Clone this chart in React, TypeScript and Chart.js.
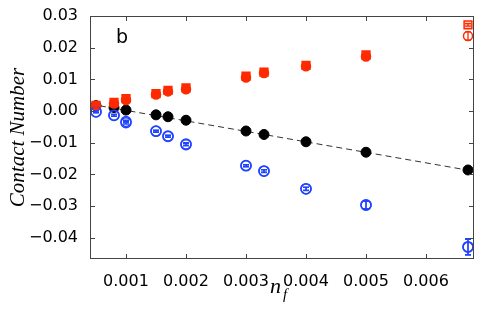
import React, { useEffect, useRef } from 'react';
import { Chart, registerables } from 'chart.js';
Chart.register(...registerables);

const nf = [0.0005, 0.0008, 0.001, 0.0015, 0.0017, 0.002, 0.003, 0.0033, 0.004, 0.005, 0.0067];
const blackVals = [0.0017, 0.0011, 0.0003, -0.0012, -0.0018, -0.0029, -0.0063, -0.0074, -0.0097, -0.013, -0.0186];
const redSquareVals = [0.0018, 0.0027, 0.0039, 0.0055, 0.0065, 0.0073, 0.011, 0.0123, 0.0144, 0.0177, 0.0272];
const redSquareErr = [0.0005, 0.0005, 0.0005, 0.0005, 0.0005, 0.0006, 0.0006, 0.0006, 0.0005, 0.0006, 0.0004];
const redCircleVals = [0.0015, 0.0024, 0.0035, 0.0052, 0.0062, 0.0069, 0.0106, 0.012, 0.0141, 0.0172, 0.0237];
const redCircleErr = [0.0006, 0.0006, 0.0006, 0.0006, 0.0006, 0.0007, 0.0008, 0.0007, 0.0006, 0.001, 0.0013];
const blueVals = [-0.0002, -0.0013, -0.0033, -0.0063, -0.0079, -0.0104, -0.0172, -0.0189, -0.0245, -0.0296, -0.0428];
const blueErr = [0.0003, 0.0003, 0.0004, 0.0003, 0.0003, 0.0004, 0.0003, 0.0004, 0.0005, 0.0012, 0.0025];
const blueAltVals = [-0.0003, -0.0014, -0.0037, -0.0064, -0.008, -0.0106, -0.0173, -0.019, -0.0246, -0.0297, -0.043];
const blueAltErr = [0.0003, 0.0003, 0.0004, 0.0003, 0.0003, 0.0004, 0.0003, 0.0004, 0.0005, 0.0012, 0.0025];
const fitX = [0.0004, 0.0068];
const fitY = [0.0022, -0.019];
const xTicks = [0.001, 0.002, 0.003, 0.004, 0.005, 0.006];
const yTicks = [0.03, 0.02, 0.01, 0.0, -0.01, -0.02, -0.03, -0.04];
const xRange = [0.0004, 0.0068];
const yRange = [-0.0467, 0.03];

const RED = '#ff2a00';
const BLUE = '#2244ff';

const pts = (vals: number[]) => nf.map((x, i) => ({ x, y: vals[i] }));

const errorBarPlugin = {
  id: 'errorBars',
  afterDatasetsDraw(chart: any) {
    const { ctx, chartArea, scales } = chart;
    ctx.save();
    ctx.beginPath();
    ctx.rect(chartArea.left, chartArea.top, chartArea.right - chartArea.left, chartArea.bottom - chartArea.top);
    ctx.clip();
    chart.data.datasets.forEach((ds: any) => {
      if (!ds.errors) return;
      ctx.strokeStyle = ds.borderColor;
      ctx.lineWidth = 1.3;
      ds.data.forEach((p: any, i: number) => {
        const e = ds.errors[i];
        const px = scales.x.getPixelForValue(p.x);
        const y1 = scales.y.getPixelForValue(p.y - e);
        const y2 = scales.y.getPixelForValue(p.y + e);
        ctx.beginPath();
        ctx.moveTo(px, y1);
        ctx.lineTo(px, y2);
        ctx.moveTo(px - 3, y1);
        ctx.lineTo(px + 3, y1);
        ctx.moveTo(px - 3, y2);
        ctx.lineTo(px + 3, y2);
        ctx.stroke();
      });
    });
    ctx.restore();
  },
};

const framePlugin = {
  id: 'frame',
  afterDraw(chart: any) {
    const { ctx, chartArea, scales } = chart;
    const { left, right, top, bottom } = chartArea;
    ctx.save();
    ctx.strokeStyle = '#444';
    ctx.lineWidth = 1;
    ctx.strokeRect(left + 0.5, top + 0.5, right - left - 1, bottom - top - 1);
    const L = 5;
    ctx.beginPath();
    xTicks.forEach((v) => {
      const px = Math.round(scales.x.getPixelForValue(v)) + 0.5;
      ctx.moveTo(px, bottom);
      ctx.lineTo(px, bottom - L);
      ctx.moveTo(px, top);
      ctx.lineTo(px, top + L);
    });
    yTicks.forEach((v) => {
      const py = Math.round(scales.y.getPixelForValue(v)) + 0.5;
      ctx.moveTo(left, py);
      ctx.lineTo(left + L, py);
      ctx.moveTo(right, py);
      ctx.lineTo(right - L, py);
    });
    ctx.stroke();
    ctx.fillStyle = '#000';
    ctx.font = '19px "DejaVu Sans"';
    ctx.textAlign = 'left';
    ctx.textBaseline = 'alphabetic';
    ctx.fillText('b', 116, 43);
    ctx.font = 'italic 22px "Liberation Serif"';
    ctx.fillText('n', 270, 293);
    ctx.font = 'italic 15px "Liberation Serif"';
    ctx.fillText('f', 283, 299);
    ctx.restore();
  },
};

export default function App() {
  const ref = useRef<HTMLCanvasElement | null>(null);
  useEffect(() => {
    if (!ref.current) return;
    const chart = new Chart(ref.current, {
      type: 'scatter',
      data: {
        datasets: [
          {
            type: 'line',
            order: 6,
            data: fitX.map((x, i) => ({ x, y: fitY[i] })),
            borderColor: '#333',
            borderWidth: 1,
            borderDash: [6, 4],
            pointRadius: 0,
            fill: false,
          } as any,
          {
            order: 5,
            data: pts(blackVals),
            backgroundColor: '#000',
            borderColor: '#000',
            pointRadius: 5,
            pointStyle: 'circle',
          },
          {
            order: 4,
            data: pts(redCircleVals),
            errors: redCircleErr,
            backgroundColor: (c: any) => (c.dataIndex === nf.length - 1 ? 'rgba(255,255,255,0.9)' : RED),
            borderColor: RED,
            borderWidth: 1.5,
            pointRadius: 4.5,
            pointStyle: 'circle',
          } as any,
          {
            order: 3,
            data: pts(redSquareVals),
            errors: redSquareErr,
            backgroundColor: (c: any) => (c.dataIndex === nf.length - 1 ? 'rgba(255,42,0,0.25)' : RED),
            borderColor: RED,
            borderWidth: 1.5,
            pointRadius: 5.5,
            pointStyle: 'rect',
          } as any,
          {
            order: 2,
            data: pts(blueVals),
            errors: blueErr,
            backgroundColor: 'rgba(0,0,0,0)',
            borderColor: BLUE,
            borderWidth: 1.5,
            pointRadius: 5,
            pointStyle: 'circle',
          } as any,
          {
            order: 1,
            data: pts(blueAltVals),
            errors: blueAltErr,
            backgroundColor: 'rgba(0,0,0,0)',
            borderColor: BLUE,
            borderWidth: 1.5,
            pointRadius: 5,
            pointStyle: 'circle',
          } as any,
        ],
      },
      options: {
        animation: false,
        responsive: false,
        devicePixelRatio: 1,
        layout: { padding: { top: 16, right: 11, left: 0, bottom: 0 } },
        plugins: { legend: { display: false }, tooltip: { enabled: false } },
        scales: {
          x: {
            type: 'linear',
            min: xRange[0],
            max: xRange[1],
            grid: { display: false },
            border: { display: false },
            afterBuildTicks: (s: any) => {
              s.ticks = xTicks.map((v) => ({ value: v }));
            },
            afterFit: (s: any) => {
              s.height = 53;
            },
            ticks: {
              color: '#000',
              padding: 5,
              maxRotation: 0,
              font: { family: 'DejaVu Sans', size: 16 },
              callback: (v: any) => Number(v).toFixed(3),
            },
          },
          y: {
            type: 'linear',
            min: yRange[0],
            max: yRange[1],
            grid: { display: false },
            border: { display: false },
            afterBuildTicks: (s: any) => {
              s.ticks = yTicks.map((v) => ({ value: v }));
            },
            afterFit: (s: any) => {
              s.width = 90;
            },
            title: {
              display: true,
              text: 'Contact Number',
              color: '#000',
              padding: { top: 6, bottom: 0 },
              font: { family: 'Liberation Serif', size: 21, style: 'italic' },
            },
            ticks: {
              color: '#000',
              padding: 4,
              font: { family: 'DejaVu Sans', size: 16 },
              callback: (v: any) => {
                const n = Number(v);
                return n < -1e-9 ? '\u2212' + Math.abs(n).toFixed(2) : Math.abs(n).toFixed(2);
              },
            },
          },
        },
      },
      plugins: [errorBarPlugin, framePlugin],
    });
    return () => chart.destroy();
  }, []);
  return (
    <div style={{ position: 'fixed', left: 0, top: 0 }}>
      <canvas ref={ref} width={485} height={312} style={{ width: 485, height: 312 }} />
    </div>
  );
}
